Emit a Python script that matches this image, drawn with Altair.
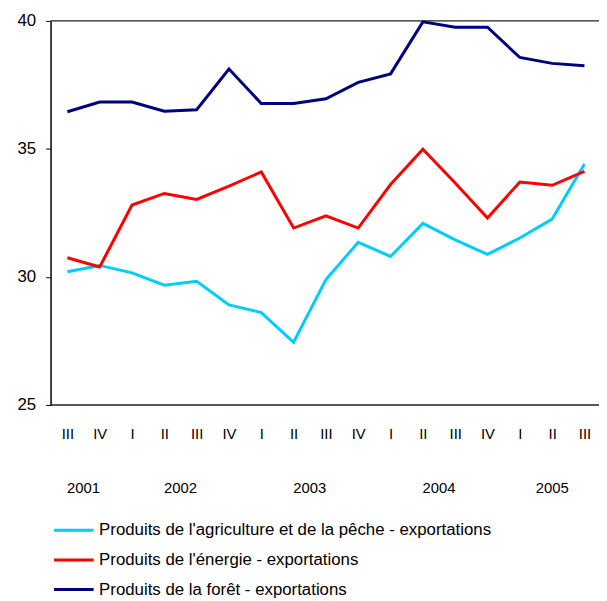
import altair as alt
import pandas as pd

quarters = ["III", "IV", "I", "II", "III", "IV", "I", "II", "III", "IV", "I", "II", "III", "IV", "I", "II", "III"]
agri = [30.2, 30.45, 30.16, 29.68, 29.83, 28.91, 28.61, 27.45, 29.9, 31.35, 30.8, 32.09, 31.45, 30.88, 31.52, 32.26, 34.41]
energie = [30.75, 30.39, 32.81, 33.26, 33.03, 33.55, 34.1, 31.91, 32.39, 31.91, 33.61, 34.99, 33.67, 32.3, 33.71, 33.58, 34.12]
foret = [36.45, 36.83, 36.83, 36.47, 36.53, 38.12, 36.77, 36.77, 36.96, 37.6, 37.93, 39.96, 39.75, 39.75, 38.57, 38.34, 38.25]

series_names = [
    "Produits de l'agriculture et de la pêche - exportations",
    "Produits de l'énergie - exportations",
    "Produits de la forêt - exportations",
]
series_colors = ["#00CCFF", "#FF0000", "#000080"]

years = ["2001", "2002", "2003", "2004", "2005"]
year_pos = [0.5, 3.5, 7.5, 11.5, 15.0]

y_ticks = [25, 30, 35, 40]

rows = []
for name, vals in zip(series_names, [agri, energie, foret]):
    for i, v in enumerate(vals):
        rows.append({"idx": i, "q": quarters[i], "value": v, "series": name})
df = pd.DataFrame(rows)

FONT = "Liberation Sans"

xscale = alt.Scale(domain=[-0.52, 16.45], nice=False, zero=False)
yscale = alt.Scale(domain=[25, 40], nice=False, zero=False)

label_expr = "[" + ",".join("'%s'" % q for q in quarters) + "][datum.value]"

x_axis = alt.Axis(values=list(range(len(quarters))), labelExpr=label_expr,
                  title=None, domain=False, ticks=False, grid=False,
                  labelPadding=22, labelFontSize=15, labelFont=FONT,
                  labelColor="black", labelFlush=False, labelOverlap=False)
y_axis = alt.Axis(values=y_ticks, title=None, grid=False,
                  tickSize=5, labelPadding=10, labelFontSize=17,
                  labelFont=FONT, labelColor="black", domainColor="black",
                  tickColor="black", domainWidth=1.5)

lines = alt.Chart(df).mark_line(strokeWidth=3, clip=False).encode(
    x=alt.X("idx:Q", scale=xscale, axis=x_axis),
    y=alt.Y("value:Q", scale=yscale, axis=y_axis),
    color=alt.Color("series:N",
                    scale=alt.Scale(domain=series_names, range=series_colors),
                    sort=series_names,
                    legend=alt.Legend(title=None, orient="none", legendX=2, legendY=493,
                                      symbolType="stroke", symbolSize=1600,
                                      symbolStrokeWidth=3, labelFont=FONT,
                                      labelFontSize=17, labelColor="black",
                                      labelOffset=4, rowPadding=0, padding=0,
                                      labelLimit=600)),
)

frame = alt.Chart(pd.DataFrame({"y": [25, 40]})).mark_rule(color="#222222", strokeWidth=1.5).encode(
    y=alt.Y("y:Q", scale=yscale, axis=y_axis)
)

year_df = pd.DataFrame({"pos": year_pos, "year": years})
year_text = alt.Chart(year_df).mark_text(font=FONT, fontSize=15, color="black", baseline="middle").encode(
    x=alt.X("pos:Q", scale=xscale, axis=x_axis),
    y=alt.value(472),
    text="year:N",
)

chart = alt.layer(frame, lines, year_text).properties(
    width=554, height=388,
    autosize=alt.AutoSizeParams(type="none"),
    padding={"left": 43, "top": 10, "right": 0, "bottom": 194},
).configure_view(stroke=None)

chart.save("out.html", embed_options={"renderer": "svg", "actions": False})
